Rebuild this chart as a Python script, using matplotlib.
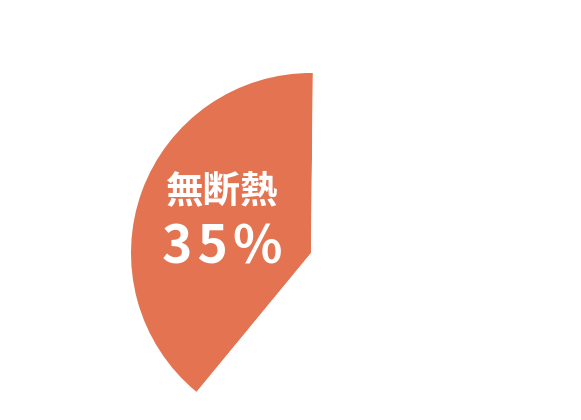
import matplotlib.pyplot as plt

plt.rcParams['font.family'] = ['Noto Sans CJK JP', 'DejaVu Sans']

# 資料
labels = ['無断熱', 'その他']
shares = [39.2, 60.8]          # 扇形の角度
label_pct = '35%'
colors = ['#E47451', 'white']

fig = plt.figure(figsize=(5.81, 4.2), dpi=100)
ax = fig.add_axes([0, 0, 1, 1])

ax.pie(shares, colors=colors, startangle=89.4, counterclock=True,
       center=(311, 167), radius=180, frame=True,
       wedgeprops=dict(linewidth=0))
ax.set_xlim(0, 581)
ax.set_ylim(0, 420)
ax.set_aspect('equal')
ax.axis('off')

ax.text(222, 229, labels[0], color='white', fontsize=27, fontweight='bold',
        ha='center', va='center')
# 文字間隔を少し広げる
ax.text(222, 172, '\u200a'.join(label_pct), color='white', fontsize=37,
        fontweight='semibold', ha='center', va='center')

plt.savefig('out.png', dpi=100)
